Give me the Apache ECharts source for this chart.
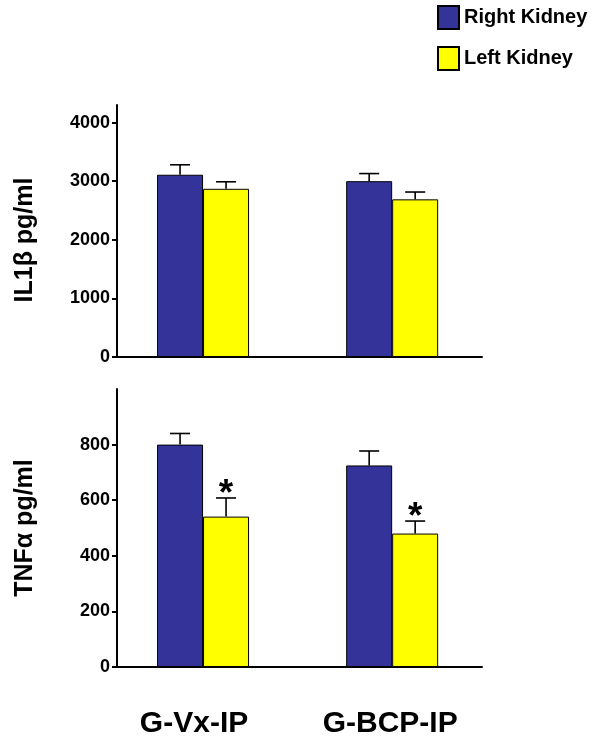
<!DOCTYPE html>
<html><head><meta charset="utf-8">
<script src="https://cdn.jsdelivr.net/npm/echarts@6/dist/echarts.min.js"></script>
<style>html,body{margin:0;padding:0;background:#fff}#c{width:600px;height:748px}</style>
</head><body><div id="c"></div>
<script>
const categories = ['G-Vx-IP', 'G-BCP-IP'];
const seriesNames = ['Right Kidney', 'Left Kidney'];
const il1bRight = [3110, 3000];
const il1bRightErr = [170, 130];
const il1bLeft = [2870, 2690];
const il1bLeftErr = [120, 125];
const tnfRight = [800, 725];
const tnfRightErr = [40, 52];
const tnfLeft = [541, 480];
const tnfLeftErr = [67, 45];
const tnfLeftSig = ['*', '*'];
const il1bTicks = [0, 1000, 2000, 3000, 4000];
const tnfTicks = [0, 200, 400, 600, 800];

const FONT = '"Liberation Sans", Arial, sans-serif';
const BLUE = '#333399', YELLOW = '#FFFF00';
const BARW = 46;
const catIdx = categories.map((c, i) => i);

function errSeries(name, vals, errs, offset, grid, sig) {
  return {
    type: 'custom', name: name, xAxisIndex: grid, yAxisIndex: grid, z: 5,
    silent: true,
    encode: {x: 0, y: 1},
    data: vals.map((v, i) => [catIdx[i], v, errs[i]]),
    renderItem: function (params, api) {
      const i = api.value(0), v = api.value(1), e = api.value(2);
      const p0 = api.coord([i, v]);
      const p1 = api.coord([i, v + e]);
      const x = p0[0] + offset;
      const children = [
        {type: 'line', shape: {x1: x, y1: p0[1], x2: x, y2: p1[1]}, style: {stroke: '#000', lineWidth: 1.6}},
        {type: 'line', shape: {x1: x - 10, y1: p1[1], x2: x + 10, y2: p1[1]}, style: {stroke: '#000', lineWidth: 1.6}}
      ];
      const s = sig ? sig[params.dataIndex] : '';
      if (s) {
        children.push({type: 'text', style: {text: s, x: x, y: p1[1] + 15, align: 'center', verticalAlign: 'bottom',
          font: 'bold 37px ' + FONT, fill: '#000'}});
      }
      return {type: 'group', children: children};
    }
  };
}

function barSeries(name, vals, color, grid) {
  return {
    type: 'bar', name: name, xAxisIndex: grid, yAxisIndex: grid,
    data: vals.map((v, i) => [catIdx[i], v]),
    barWidth: BARW, barGap: '0%',
    itemStyle: {color: color, borderColor: '#000', borderWidth: 1}
  };
}

const axisLineStyle = {show: true, onZero: false, lineStyle: {color: '#000', width: 2}};
const labelStyle = {color: '#000', fontFamily: FONT, fontWeight: 'bold', fontSize: 18, margin: 7, formatter: v => String(v)};
const nameStyle = {color: '#000', fontFamily: FONT, fontWeight: 'bold', fontSize: 25};
const catFont = {color: '#000', fontFamily: FONT, fontWeight: 'bold', fontSize: 30};

function xAx(grid, showLabel) {
  return {
    type: 'value', gridIndex: grid, min: -0.455, max: 1.475,
    axisLine: axisLineStyle, axisTick: {show: false}, splitLine: {show: false},
    axisLabel: {show: showLabel, customValues: catIdx, margin: 42,
      formatter: v => { const k = Math.round(v); return categories[k] ? '{c' + k + '|' + categories[k] + '}' : ''; },
      rich: {
        c0: Object.assign({padding: [0, 18, 0, 0]}, catFont),
        c1: Object.assign({padding: [0, 4, 0, 0]}, catFont)
      }}
  };
}

const chart = echarts.init(document.getElementById('c'), null, {renderer: 'canvas'});
chart.setOption({
  animation: false,
  backgroundColor: '#fff',
  legend: {
    left: 432, top: 0, orient: 'vertical', itemWidth: 21, itemHeight: 23, itemGap: 16,
    data: seriesNames, icon: 'rect',
    textStyle: {color: '#000', fontFamily: FONT, fontWeight: 'bold', fontSize: 20}
  },
  grid: [
    {left: 117, right: 118, top: 105, bottom: 391},
    {left: 117, right: 118, top: 389, bottom: 81}
  ],
  xAxis: [xAx(0, false), xAx(1, true)],
  yAxis: [
    {type: 'value', gridIndex: 0, min: 0, max: 4300, interval: 1000,
     name: 'IL1\u03b2 pg/ml', nameLocation: 'middle', nameGap: 79,
     nameTextStyle: Object.assign({padding: [0, 18, 0, 0]}, nameStyle),
     axisLine: axisLineStyle, splitLine: {show: false},
     axisTick: {show: true, length: 5, lineStyle: {color: '#000', width: 2}, customValues: il1bTicks},
     axisLabel: Object.assign({customValues: il1bTicks}, labelStyle)},
    {type: 'value', gridIndex: 1, min: 0, max: 1000, interval: 200,
     name: 'TNF\u03b1 pg/ml', nameLocation: 'middle', nameGap: 79, nameTextStyle: nameStyle,
     axisLine: axisLineStyle, splitLine: {show: false},
     axisTick: {show: true, length: 5, lineStyle: {color: '#000', width: 2}, customValues: tnfTicks},
     axisLabel: Object.assign({customValues: tnfTicks}, labelStyle)}
  ],
  series: [
    barSeries(seriesNames[0], il1bRight, BLUE, 0),
    barSeries(seriesNames[1], il1bLeft, YELLOW, 0),
    barSeries(seriesNames[0], tnfRight, BLUE, 1),
    barSeries(seriesNames[1], tnfLeft, YELLOW, 1),
    errSeries(seriesNames[0], il1bRight, il1bRightErr, -BARW / 2, 0, null),
    errSeries(seriesNames[1], il1bLeft, il1bLeftErr, BARW / 2, 0, null),
    errSeries(seriesNames[0], tnfRight, tnfRightErr, -BARW / 2, 1, null),
    errSeries(seriesNames[1], tnfLeft, tnfLeftErr, BARW / 2, 1, tnfLeftSig)
  ]
});
</script></body></html>
